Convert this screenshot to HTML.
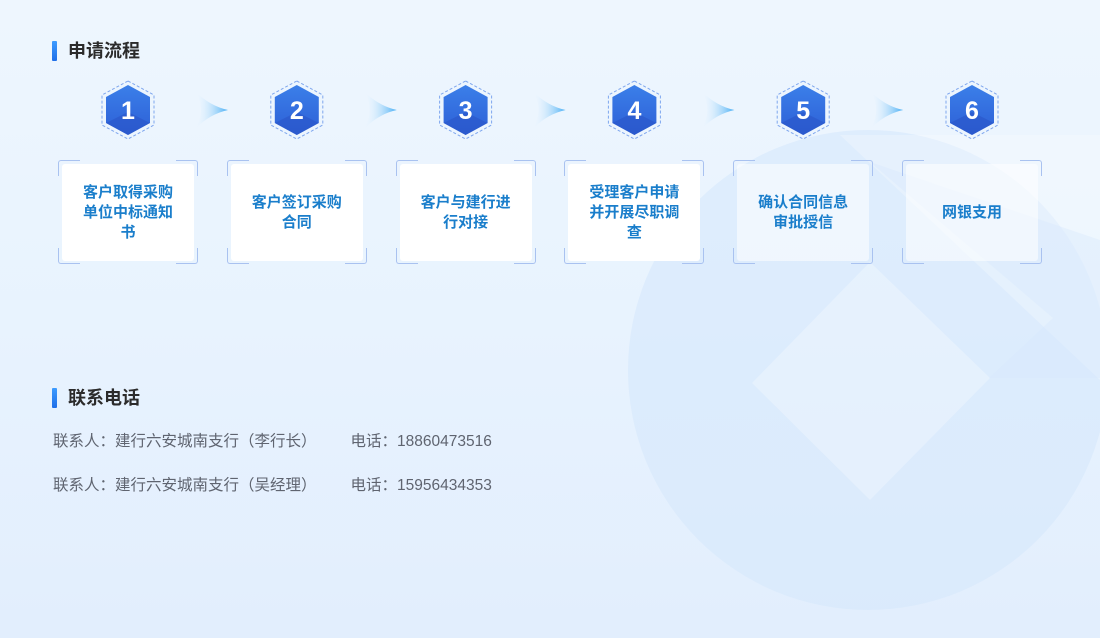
<!DOCTYPE html>
<html><head><meta charset="utf-8"><style>
*{margin:0;padding:0;box-sizing:border-box}
body{width:1100px;height:638px;overflow:hidden;position:relative;background:linear-gradient(180deg,#eef6fe 0%,#e8f3fe 50%,#e2eefd 100%);font-family:"Liberation Sans","Noto Sans CJK SC",sans-serif}
.t{position:absolute;left:52px;font-size:18px;font-weight:bold;color:#2b2b2b;padding-left:16px;line-height:22px}
.t:before{content:"";position:absolute;left:0;top:1px;width:5px;height:20px;background:linear-gradient(#3d9bff,#1f6fe8);border-radius:1px}
.card{position:absolute;top:160px;width:140px;height:104px}
.card .in{position:absolute;left:4px;top:4px;right:4px;bottom:3px;background:#fff;border-radius:3px;display:flex;align-items:center;justify-content:center;text-align:center;color:#1a7ecb;font-size:15px;font-weight:bold;line-height:20px;padding:0 16px}
.c{position:absolute;width:22px;height:16px;border:1.5px solid #a9c2f0}
.tl{left:0;top:0;border-right:none;border-bottom:none;border-top-left-radius:3px}
.tr{right:0;top:0;border-left:none;border-bottom:none;border-top-right-radius:3px}
.bl{left:0;bottom:0;border-right:none;border-top:none;border-bottom-left-radius:3px}
.br{right:0;bottom:0;border-left:none;border-top:none;border-bottom-right-radius:3px}
.ct{position:absolute;left:53px;font-size:15.5px;color:#5f6470}
</style></head><body>
<svg width="1100" height="638" style="position:absolute;left:0;top:0">
<defs>
<linearGradient id="hg" x1="0" y1="0" x2="0" y2="1"><stop offset="0" stop-color="#3b7fe9"/><stop offset="1" stop-color="#2d5fd6"/></linearGradient>
<linearGradient id="ag" x1="0" y1="0" x2="1" y2="0"><stop offset="0" stop-color="#e8f4fe" stop-opacity="0"/><stop offset="1" stop-color="#46aef5"/></linearGradient>
</defs>
<circle cx="868" cy="370" r="240" fill="#d6e8fc" opacity="0.6"/>
<path d="M840 135 L1100 380 L1100 135 Z" fill="#ffffff" opacity="0.25"/>
<path d="M870 162 L1053 318 L989 378 L1100 378 L1100 240 Z" fill="#d6e8fc" opacity="0.4"/>
<path d="M752 383 L870 262 L990 378 L870 500 Z" fill="#ffffff" opacity="0.28"/>
<g id="steps"></g>
</svg>
<div class="t" style="top:40px">申请流程</div>
<div class="t" style="top:387px">联系电话</div>
<div id="cards"></div>
<div class="ct" style="top:429px">联系人：建行六安城南支行（李行长）<span style="margin-left:34px">电话：18860473516</span></div>
<div class="ct" style="top:473px">联系人：建行六安城南支行（吴经理）<span style="margin-left:34px">电话：15956434353</span></div>
<script>
var labels=["客户取得采购单位中标通知书","客户签订采购合同","客户与建行进行对接","受理客户申请并开展尽职调查","确认合同信息审批授信","网银支用"];
var g=document.getElementById("steps"),s="",h="";
for(var i=0;i<6;i++){var cx=128+i*168.8,cy=110;
s+='<polygon points="'+cx+','+(cy-29)+' '+(cx+26)+','+(cy-15)+' '+(cx+26)+','+(cy+15)+' '+cx+','+(cy+29)+' '+(cx-26)+','+(cy+15)+' '+(cx-26)+','+(cy-15)+'" fill="none" stroke="#7ea6ee" stroke-width="1" stroke-dasharray="3,2"/>';
s+='<polygon points="'+cx+','+(cy-25)+' '+(cx+22)+','+(cy-13)+' '+(cx+22)+','+(cy+13)+' '+cx+','+(cy+25)+' '+(cx-22)+','+(cy+13)+' '+(cx-22)+','+(cy-13)+'" fill="url(#hg)"/>';
s+='<polygon points="'+(cx-22)+','+(cy+13)+' '+cx+','+(cy+2)+' '+(cx+22)+','+(cy+13)+' '+cx+','+(cy+25)+'" fill="#2a55c8" opacity="0.6"/>';
s+='<text x="'+cx+'" y="'+(cy+9)+'" text-anchor="middle" fill="#fff" font-size="25" font-weight="bold" font-family="Liberation Sans Narrow,Liberation Sans,sans-serif">'+(i+1)+'</text>';
if(i<5){var ax=cx+68;s+='<path d="M'+ax+' 92 Q'+(ax+14)+' 106 '+(ax+32)+' 110 Q'+(ax+14)+' 114 '+ax+' 128 Q'+(ax+10)+' 110 '+ax+' 92 Z" fill="url(#ag)"/>';}
var op=i>=4?0.55:1;
h+='<div class="card" style="left:'+(58+i*168.8)+'px"><div class="c tl"></div><div class="c tr"></div><div class="c bl"></div><div class="c br"></div><div class="in" style="background:rgba(255,255,255,'+op+')">'+labels[i]+'</div></div>';}
g.innerHTML=s;document.getElementById("cards").innerHTML=h;
</script>
</body></html>
